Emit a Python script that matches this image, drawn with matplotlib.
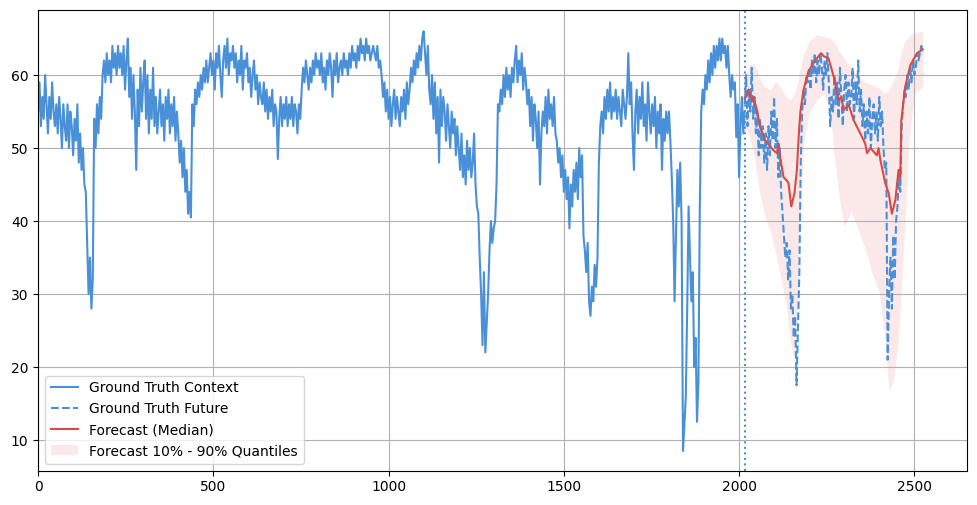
import numpy as np
import matplotlib
matplotlib.use("Agg")
import matplotlib.pyplot as plt

# --- data ---
# ground truth context, one value every 4 steps (0 .. 2016)
step = 4
ctx_vals = [
    55, 59, 53, 57, 54, 60, 56, 52, 57, 54, 59, 55, 53, 56, 52, 57, 54, 50, 56, 53,
    51, 56, 50, 55, 53, 49, 54, 51, 56, 48, 52, 47, 50, 45, 44, 37, 30, 35, 28, 32,
    54, 50, 56, 52, 57, 54, 60, 62, 59, 63, 60, 62, 59, 64, 61, 63, 60, 64, 61, 63,
    60, 64, 58, 62, 65, 57, 61, 54, 60, 55, 47, 58, 53, 61, 55, 59, 62, 54, 60, 52,
    58, 54, 61, 53, 57, 52, 55, 58, 53, 56, 51, 57, 54, 58, 52, 56, 53, 57, 51, 55,
    52, 48, 51, 46, 50, 44, 47, 41, 44, 40.5, 56, 53, 58, 56, 59, 57, 60, 58, 61, 59,
    62, 59, 61, 63, 60, 62, 58, 63, 61, 64, 60, 57, 62, 64, 61, 65, 60, 63, 62, 64,
    61, 63, 59, 62, 60, 64, 58, 62, 61, 63, 59, 61, 57, 60, 62, 58, 60, 56, 59, 57,
    56, 59, 55, 58, 54, 57, 55, 58, 53, 56, 55, 48.5, 54, 57, 53, 56, 54, 57, 53, 56,
    54, 57, 53, 56, 55, 52, 56, 54, 58, 61, 59, 62, 60, 58, 61, 59, 62, 60, 63, 61,
    62, 60, 63, 59, 61, 58, 62, 60, 63, 61, 57, 62, 60, 63, 59, 61, 62, 60, 63, 61,
    62, 60, 63, 61, 64, 62, 63, 61, 64, 62, 65, 63, 64, 62, 65, 63, 64, 62, 63, 64,
    63, 62, 64, 61, 62, 60, 57, 59, 55, 58, 54, 57, 53, 56, 58, 54, 57, 55, 53, 57,
    55, 58, 54, 59, 56, 58, 61, 59, 62, 60, 63, 61, 64, 62, 65, 66, 63, 60, 64, 58,
    56, 60, 54, 59, 52, 57, 48, 58, 53, 57, 55, 51, 56, 53, 50, 55, 52, 54, 49, 53,
    50, 47, 52, 46, 49, 45, 51, 47, 50, 46, 48, 52, 45, 42, 41, 35, 30, 23, 33, 22,
    26, 30, 36, 40, 37, 39, 40, 45, 56, 55, 58, 56, 60, 57, 61, 58, 60, 57, 61, 59,
    62, 64, 59, 62, 60, 63, 58, 61, 59, 56, 58, 53, 57, 51, 56, 54, 50, 55, 45, 52,
    55, 53, 57, 52, 58, 54, 56, 53, 57, 52, 51, 48, 50, 46, 49, 44, 47, 43, 46, 39,
    45, 42, 47, 44, 48, 43, 50, 46, 49, 38, 36, 33, 37, 29, 27, 31, 29, 34, 31, 35,
    48, 53, 55, 52, 57, 54, 58, 55, 59, 54, 57, 55, 58, 54, 57, 55, 53, 58, 56, 54,
    57, 63, 56, 59, 52, 47, 55, 58, 52, 57, 54, 59, 53, 56, 51, 59, 55, 52, 56, 53,
    57, 50, 55, 52, 56, 47, 54, 51, 55, 52, 55, 51, 46, 40, 29, 38, 47, 42, 48, 40,
    8.5, 12, 16, 28, 42, 35, 29, 33, 20, 24, 12.5, 18, 42, 55, 58, 56, 60, 58, 62, 59,
    63, 60, 64, 61, 64, 62, 65, 62, 65, 63, 64, 61, 64, 60, 57, 60, 58, 59, 51.5, 56,
    46, 53, 57, 52, 55,
]

# ground truth future, one value every 4 steps (2016 .. 2524)
fut_start = 2016
fut_vals = [
    56, 60, 53, 58, 55, 61, 54, 57,
    52, 55, 49, 54, 50, 53, 48, 52,
    47, 53, 49, 55, 51, 57, 50, 54, 46,
    50, 44, 41,
    38, 35, 37, 32, 36, 28,
    30, 24, 27, 17.5,
    25, 33, 48,
    55, 58, 56, 60,
    59, 61, 58, 62, 60, 63, 59, 62, 60, 63, 61, 58, 62, 60, 63,
    59, 53, 57, 55,
    60, 56, 59, 54, 61, 57, 53, 58, 60, 55, 59, 56,
    57, 61, 54, 59, 56, 62, 55, 58,
    53, 56, 51, 55, 52, 57, 50, 54, 56, 52, 55, 51, 57, 53, 55,
    50, 47, 48,
    21, 30,
    35, 28, 38, 32, 40,
    42, 46, 44,
    53, 56, 58, 57,
    60, 58, 61, 59, 62, 60, 61, 63, 62, 63, 64, 63,
]

# forecast median
med_x = [2016, 2027, 2037, 2041, 2051, 2060, 2075, 2084, 2098, 2108, 2113, 2117,
         2127, 2137, 2141, 2149, 2158, 2165, 2170, 2175, 2184, 2198, 2217, 2234,
         2241, 2255, 2270, 2284, 2292, 2298, 2313, 2327, 2346, 2360, 2365, 2375,
         2393, 2398, 2403, 2417, 2427, 2436, 2446, 2455, 2460, 2463, 2474, 2489,
         2508, 2524]
med_y = [56.8, 58, 56.5, 57, 55.2, 52.9, 51, 50.5, 49.7, 49.3, 50.6, 48.8,
         46, 45.5, 45.2, 42, 43.8, 47, 51.5, 55, 58, 60.5, 62, 63,
         62.6, 62.3, 59.8, 56.6, 57, 55.2, 55.9, 53.8, 52, 50.6, 49.3, 50,
         49, 50, 48.4, 45.2, 43.8, 41, 42.9, 47, 46, 53.8, 58.4, 61.4,
         63, 63.5]

# forecast 10% - 90% quantiles
q_x = [2016, 2030, 2045, 2060, 2075, 2090, 2105, 2120, 2135, 2145, 2155, 2165,
       2175, 2185, 2200, 2220, 2240, 2260, 2270, 2285, 2300, 2320, 2340, 2360,
       2380, 2400, 2415, 2428, 2440, 2452, 2462, 2472, 2485, 2500, 2524]
q_high = [59, 61.5, 61.5, 59.5, 58.3, 58, 59.2, 58.2, 57, 56.6, 57.2, 58.5,
          61, 63, 64.6, 65.5, 65.3, 65, 64.6, 63.3, 62.3, 60.8, 59.8, 59,
          58.6, 58.2, 57.5, 58, 59.2, 60.5, 63, 64.5, 65.4, 65.8, 66]
q_low = [53, 51.5, 48.5, 43.5, 40.5, 38.5, 35.5, 32, 28.3, 24, 21.2, 27.8,
         41.5, 51, 54.8, 56.5, 57.5, 55.3, 49.7, 43.5, 39.2, 41.3, 38.8, 36.2,
         32.8, 30.2, 24.5, 16.8, 18, 22.5, 29.5, 39, 51, 57.5, 58.4]

blue = "#4a90d9"
red = "#d94a47"

ctx_x = np.arange(len(ctx_vals)) * step
fut_x = fut_start + np.arange(len(fut_vals)) * step

fig, ax = plt.subplots(figsize=(9.77, 5.05), dpi=100)
fig.subplots_adjust(left=0.039, right=0.99, top=0.98, bottom=0.068)

ax.plot(ctx_x, ctx_vals, color=blue, lw=1.5, label="Ground Truth Context")
ax.plot(fut_x, fut_vals, color=blue, lw=1.5, ls="--", label="Ground Truth Future")
ax.plot(med_x, med_y, color=red, lw=1.5, label="Forecast (Median)")
ax.fill_between(q_x, q_low, q_high, color=red, alpha=0.12, lw=0,
                label="Forecast 10% - 90% Quantiles")
ax.axvline(fut_start, color=blue, ls=":", lw=1.5)

ax.set_xlim(0, 2651)
ax.set_ylim(5.8, 68.9)
ax.grid(True)
ax.legend(loc="lower left")

plt.savefig("out.png", dpi=100)
